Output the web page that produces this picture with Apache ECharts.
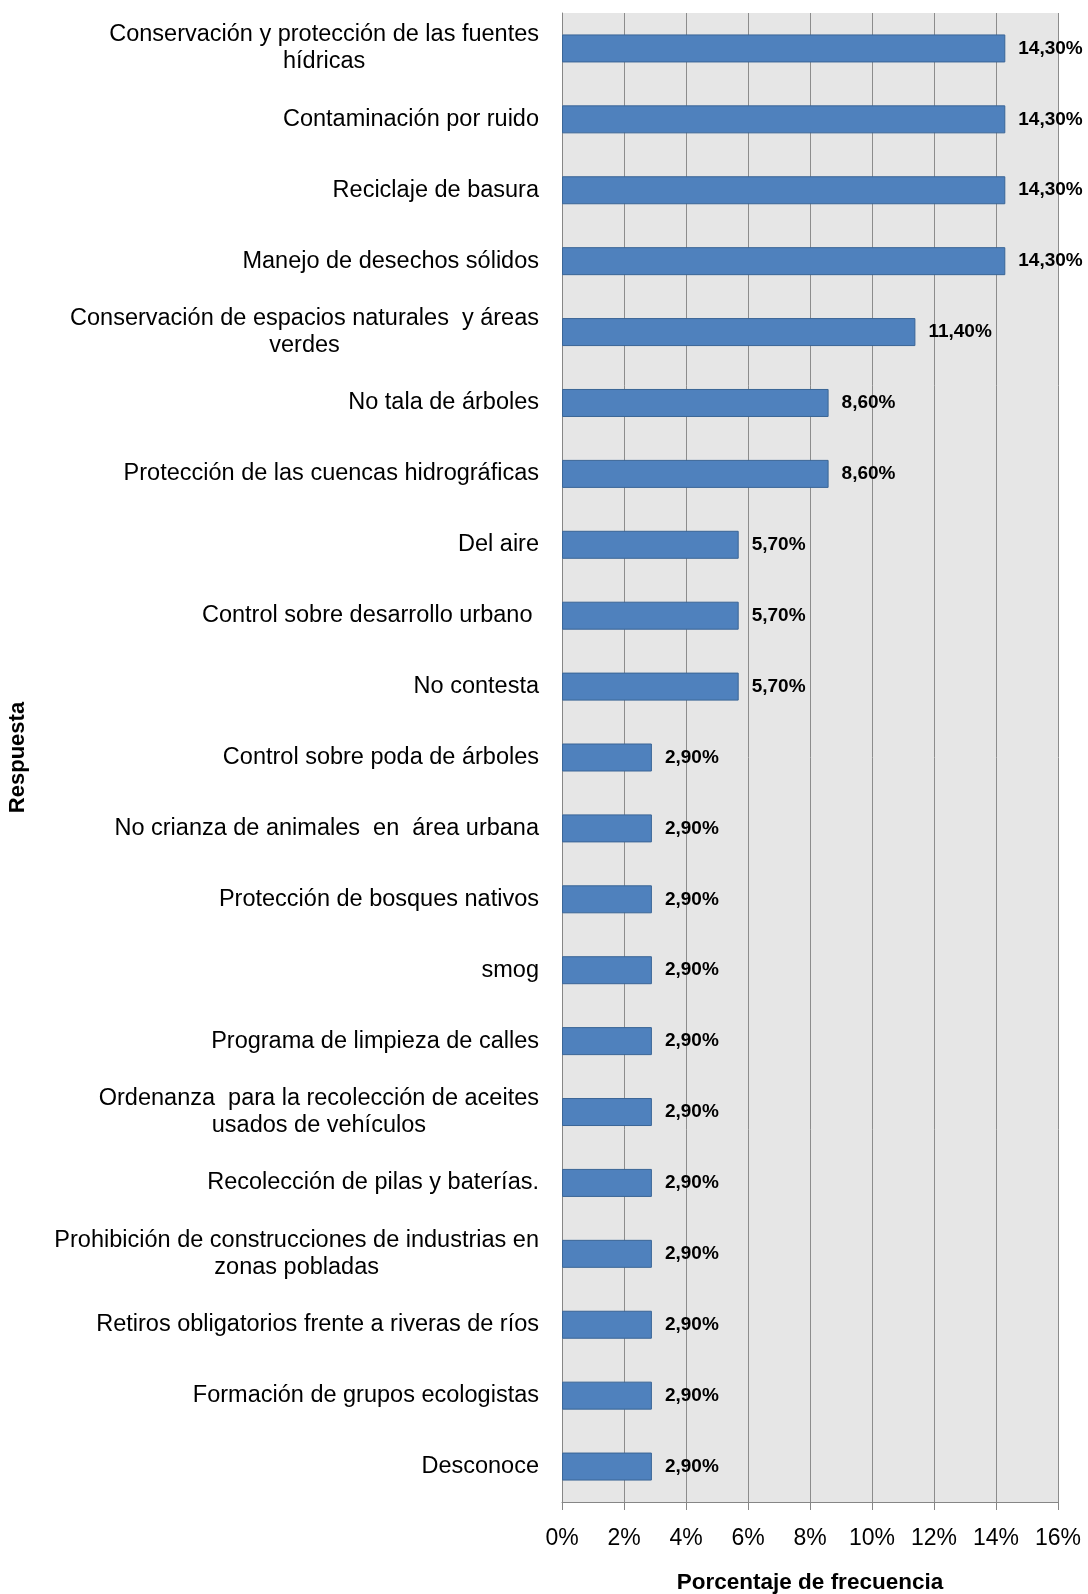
<!DOCTYPE html>
<html>
<head>
<meta charset="utf-8">
<script src="https://cdn.jsdelivr.net/npm/echarts@6/dist/echarts.min.js"></script>
<style>
  html, body { margin: 0; padding: 0; background: #ffffff; }
  #chart { width: 1088px; height: 1594px; }
</style>
</head>
<body>
<div id="chart"></div>
<script>
// Respuestas (de arriba hacia abajo)
const categories = [
  'Conservación y protección de las fuentes\nhídricas',
  'Contaminación por ruido',
  'Reciclaje de basura',
  'Manejo de desechos sólidos',
  'Conservación de espacios naturales  y áreas\nverdes',
  'No tala de árboles',
  'Protección de las cuencas hidrográficas',
  'Del aire',
  'Control sobre desarrollo urbano ',
  'No contesta',
  'Control sobre poda de árboles',
  'No crianza de animales  en  área urbana',
  'Protección de bosques nativos',
  'smog',
  'Programa de limpieza de calles',
  'Ordenanza  para la recolección de aceites\nusados de vehículos',
  'Recolección de pilas y baterías.',
  'Prohibición de construcciones de industrias en\nzonas pobladas',
  'Retiros obligatorios frente a riveras de ríos',
  'Formación de grupos ecologistas',
  'Desconoce'
];

// Porcentaje de frecuencia (%)
const frecuencia = [
  14.3, 14.3, 14.3, 14.3, 11.4, 8.6, 8.6, 5.7, 5.7, 5.7,
  2.9, 2.9, 2.9, 2.9, 2.9, 2.9, 2.9, 2.9, 2.9, 2.9, 2.9
];

// Marcas del eje de porcentaje
const ticksPct = [0, 2, 4, 6, 8, 10, 12, 14, 16];

const FONT = '"Liberation Sans", Arial, Helvetica, sans-serif';

const chart = echarts.init(document.getElementById('chart'), null, { renderer: 'canvas' });

chart.setOption({
  backgroundColor: '#ffffff',
  animation: false,
  grid: {
    left: 562,
    right: 30,
    top: 13,
    bottom: 92,
    outerBoundsMode: 'none',
    containLabel: false,
    show: true,
    backgroundColor: '#E6E6E6',
    borderWidth: 0
  },
  xAxis: {
    type: 'value',
    min: ticksPct[0],
    max: ticksPct[ticksPct.length - 1],
    interval: ticksPct[1] - ticksPct[0],
    name: 'Porcentaje de frecuencia',
    nameLocation: 'middle',
    nameGap: 69,
    nameTextStyle: { fontFamily: FONT, fontSize: 22.5, fontWeight: 'bold', color: '#000' },
    axisLine: { show: true, lineStyle: { color: '#868686', width: 1 } },
    axisTick: { show: true, length: 8, lineStyle: { color: '#868686', width: 1 } },
    axisLabel: {
      margin: 25,
      fontFamily: FONT,
      fontSize: 23,
      color: '#000',
      formatter: v => v + '%'
    },
    splitLine: { show: true, lineStyle: { color: '#8C8C8C', width: 1 } }
  },
  yAxis: {
    type: 'category',
    data: categories,
    inverse: true,
    name: 'Respuesta',
    nameLocation: 'middle',
    nameGap: 533,
    nameRotate: 90,
    nameTextStyle: { fontFamily: FONT, fontSize: 22, fontWeight: 'bold', color: '#000' },
    axisLine: { show: true, lineStyle: { color: '#868686', width: 1 } },
    axisTick: { show: false },
    splitLine: { show: false },
    axisLabel: {
      margin: 23,
      fontFamily: FONT,
      fontSize: 23.5,
      color: '#000',
      interval: 0,
      formatter: v => v.split('\n').map(s => '{c|' + s + '}').join('\n'),
      rich: {
        c: { align: 'center', fontFamily: FONT, fontSize: 23.5, color: '#000', lineHeight: 27 }
      }
    }
  },
  series: [{
    type: 'bar',
    data: frecuencia,
    barWidth: 28,
    itemStyle: { color: '#4F81BD', borderColor: '#3A6596', borderWidth: 1 },
    label: {
      show: true,
      position: 'right',
      distance: 13,
      fontFamily: FONT,
      fontSize: 19,
      fontWeight: 'bold',
      color: '#000',
      formatter: p => p.value.toFixed(2).replace('.', ',') + '%'
    }
  }]
});
</script>
</body>
</html>
